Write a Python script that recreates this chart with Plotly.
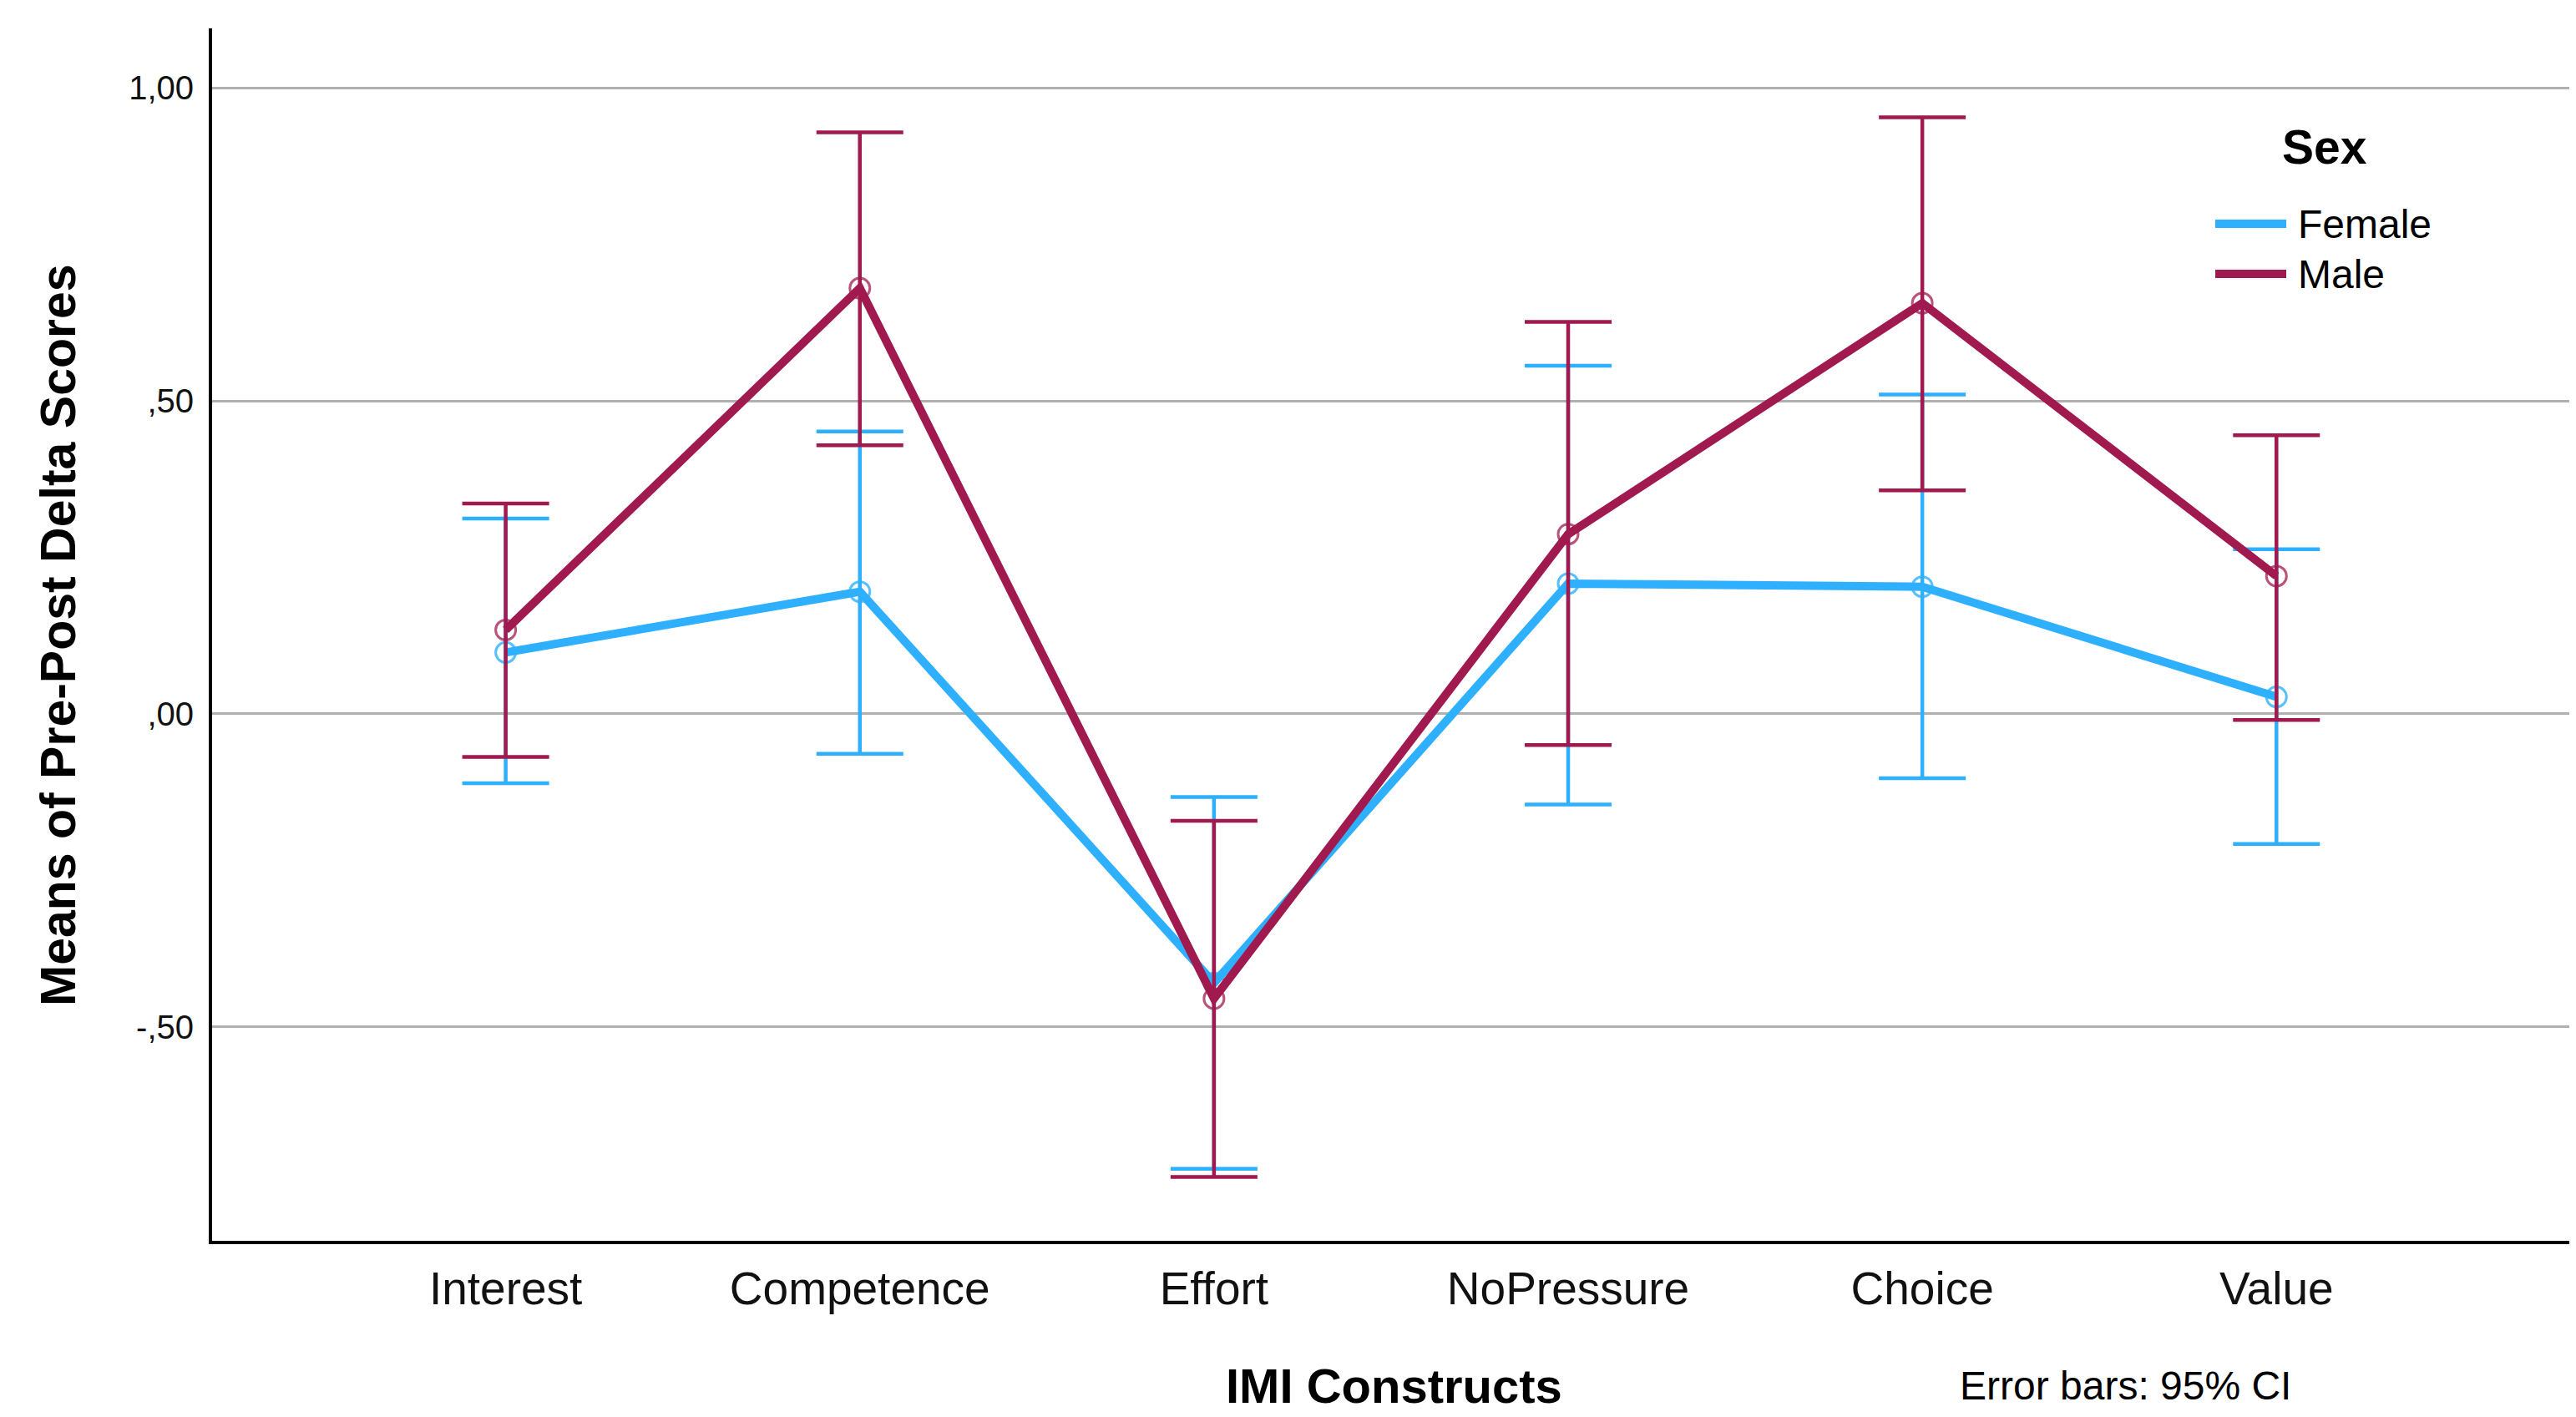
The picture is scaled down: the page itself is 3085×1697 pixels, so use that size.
import plotly.graph_objects as go

# ---- data ----
categories = ["Interest", "Competence", "Effort", "NoPressure", "Choice", "Value"]

female_mean = [0.098, 0.195, -0.430, 0.208, 0.203, 0.027]
female_upper = [0.312, 0.451, -0.133, 0.556, 0.510, 0.263]
female_lower = [-0.111, -0.064, -0.727, -0.145, -0.103, -0.208]

male_mean = [0.134, 0.680, -0.455, 0.287, 0.656, 0.220]
male_upper = [0.336, 0.929, -0.171, 0.626, 0.953, 0.445]
male_lower = [-0.069, 0.429, -0.740, -0.050, 0.357, -0.010]

y_tickvals = [-0.5, 0.0, 0.5, 1.0]
y_ticktext = ["-,50", ",00", ",50", "1,00"]

series_names = ["Female", "Male"]
colors = {"Female": "#2eb0ff", "Male": "#a0194f"}
marker_colors = {"Female": "rgba(46,176,255,0.8)", "Male": "rgba(160,25,79,0.75)"}

# ---- layout geometry (page body has an 8px margin) ----
OFF = 8
W, H = 3085 - OFF, 1697 - OFF
L, R, T, B = 254 - OFF, 5, 34 - OFF, 211
PW, PH = W - L - R, H - T - B


def px_x(px):
    """reference-image pixel -> paper x"""
    return (px - OFF - L) / PW


def px_y(py):
    """reference-image pixel -> paper y"""
    return (H - B - (py - OFF)) / PH


FONT = "Liberation Sans, Arial, Helvetica, sans-serif"

fig = go.Figure()

data = {
    "Female": (female_mean, female_upper, female_lower),
    "Male": (male_mean, male_upper, male_lower),
}

for name in series_names:
    mean, up, lo = data[name]
    plus = [u - m for u, m in zip(up, mean)]
    minus = [m - l for m, l in zip(mean, lo)]
    fig.add_trace(go.Scatter(
        x=categories,
        y=mean,
        mode="lines+markers",
        name=name,
        showlegend=False,
        line=dict(color=colors[name], width=10),
        marker=dict(symbol="circle-open", size=24,
                    color=marker_colors[name],
                    line=dict(width=3, color=marker_colors[name])),
        error_y=dict(type="data", symmetric=False, array=plus, arrayminus=minus,
                     color=colors[name], thickness=4.5, width=52),
    ))

fig.update_layout(
    width=W, height=H,
    margin=dict(l=L, r=R, t=T, b=B, pad=0),
    paper_bgcolor="white",
    plot_bgcolor="white",
    font=dict(family=FONT, color="black"),
    showlegend=False,
)

fig.update_xaxes(
    type="category",
    categoryorder="array", categoryarray=categories,
    range=[-0.829, 5.834],
    showgrid=False, zeroline=False,
    showline=True, linecolor="black", linewidth=4,
    ticks="", tickfont=dict(size=55, family=FONT, color="#111111"),
    ticklabelstandoff=6,
)

fig.update_yaxes(
    range=[-0.842, 1.095],
    tickvals=y_tickvals, ticktext=y_ticktext,
    showgrid=True, gridcolor="#b0b0b0", gridwidth=3,
    zeroline=False,
    showline=True, linecolor="black", linewidth=4,
    ticks="", tickfont=dict(size=40, family=FONT, color="#111111"),
    ticklabelstandoff=10,
)

annotations = [
    dict(text="<b>Means of Pre-Post Delta Scores</b>", x=px_x(70), y=px_y(761),
         xref="paper", yref="paper", showarrow=False, textangle=-90,
         font=dict(size=59, family=FONT, color="black"),
         xanchor="center", yanchor="middle"),
    dict(text="<b>IMI Constructs</b>", x=px_x(1669), y=px_y(1659),
         xref="paper", yref="paper", showarrow=False,
         font=dict(size=58, family=FONT, color="black"),
         xanchor="center", yanchor="middle"),
    dict(text="Error bars: 95% CI", x=px_x(2545), y=px_y(1659),
         xref="paper", yref="paper", showarrow=False,
         font=dict(size=48, family=FONT, color="black"),
         xanchor="center", yanchor="middle"),
    dict(text="<b>Sex</b>", x=px_x(2784), y=px_y(176),
         xref="paper", yref="paper", showarrow=False,
         font=dict(size=57, family=FONT, color="black"),
         xanchor="center", yanchor="middle"),
]

legend_y = {"Female": 268, "Male": 328}
shapes = []
for name in series_names:
    yy = px_y(legend_y[name])
    shapes.append(dict(type="line", xref="paper", yref="paper",
                       x0=px_x(2653), x1=px_x(2738), y0=yy, y1=yy,
                       line=dict(color=colors[name], width=10)))
    annotations.append(dict(text=name, x=px_x(2750), y=yy,
                            xref="paper", yref="paper", showarrow=False,
                            font=dict(size=48, family=FONT, color="black"),
                            xanchor="left", yanchor="middle"))

fig.update_layout(annotations=annotations, shapes=shapes)

fig.write_html("out.html")
